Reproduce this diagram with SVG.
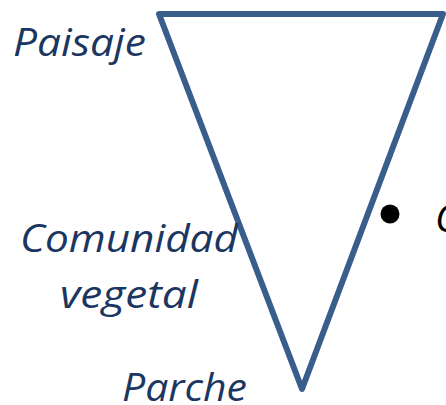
<svg xmlns="http://www.w3.org/2000/svg" width="446" height="405" viewBox="0 0 446 405">
<style>
.lbl{font-family:"Open Sans","Noto Sans",sans-serif;font-style:italic;font-size:39px;fill:#1B3660}
.blt{font-family:"Open Sans","Noto Sans",sans-serif;font-size:39px;fill:#000}
</style>
<rect width="446" height="405" fill="#fff"/>
<g id="connectors">
<polygon id="triangle" points="159,14 443,14 302,389" fill="none" stroke="#3A5E8C" stroke-width="6" stroke-linejoin="round"/>
</g>
<g id="paisaje"><text class="lbl" x="13" y="56" textLength="133" lengthAdjust="spacingAndGlyphs">Paisaje</text></g>
<g id="comunidad"><text class="lbl" x="20" y="252" textLength="218" lengthAdjust="spacingAndGlyphs">Comunidad</text>
<text class="lbl" x="60" y="308" textLength="138" lengthAdjust="spacingAndGlyphs">vegetal</text></g>
<g id="parche"><text class="lbl" x="122" y="401" textLength="125" lengthAdjust="spacingAndGlyphs">Parche</text></g>
<g id="bullet"><circle cx="390" cy="214" r="9.5" fill="#000"/>
<text class="blt" x="435" y="232" font-style="italic">C</text></g>
</svg>
